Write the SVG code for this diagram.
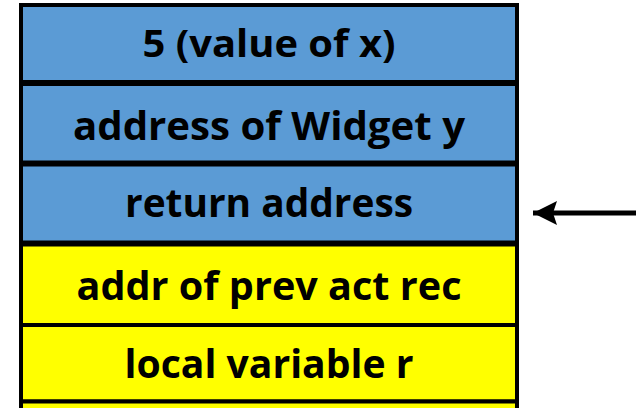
<svg xmlns="http://www.w3.org/2000/svg" width="636" height="408" viewBox="0 0 636 408">
<style>
.blue{fill:#5B9BD5;stroke:#000;stroke-width:4}
.yellow{fill:#FFFF00;stroke:#000;stroke-width:4}
.sep{stroke:#000;stroke-width:6}
.lbl{font-family:"Open Sans","Liberation Sans",sans-serif;font-weight:bold;fill:#000;text-anchor:middle}
.conn{stroke:#000;stroke-width:5;fill:none}
</style>
<defs>
<marker id="ah" markerUnits="userSpaceOnUse" markerWidth="26" markerHeight="26" viewBox="0 0 26 26" refX="24" refY="13" orient="auto">
<path d="M0,1 L24,13 L0,25 L4,13 Z" fill="#000"/>
</marker>
</defs>
<g id="row1"><rect class="blue" x="21" y="5" width="496" height="78"/><text class="lbl" x="269" y="57" font-size="38" textLength="253" lengthAdjust="spacingAndGlyphs">5 (value of x)</text></g>
<g id="row2"><rect class="blue" x="21" y="83" width="496" height="80"/><text class="lbl" x="269" y="140" font-size="39" textLength="392" lengthAdjust="spacingAndGlyphs">address of Widget y</text></g>
<g id="row3"><rect class="blue" x="21" y="163" width="496" height="80.5"/><text class="lbl" x="269" y="217" font-size="39" textLength="288" lengthAdjust="spacingAndGlyphs">return address</text></g>
<g id="row4"><rect class="yellow" x="21" y="243.5" width="496" height="81.5"/><text class="lbl" x="269" y="300" font-size="39" textLength="385" lengthAdjust="spacingAndGlyphs">addr of prev act rec</text></g>
<g id="row5"><rect class="yellow" x="21" y="325" width="496" height="76.5"/><text class="lbl" x="269" y="378" font-size="39" textLength="289" lengthAdjust="spacingAndGlyphs">local variable r</text></g>
<g id="row6"><rect class="yellow" x="21" y="401.5" width="496" height="60"/></g>
<g id="separators"><line class="sep" x1="19" y1="83" x2="519" y2="83"/><line class="sep" x1="19" y1="163.5" x2="519" y2="163.5"/><line class="sep" x1="19" y1="243.5" x2="519" y2="243.5"/></g>
<g id="connectors"><line class="conn" x1="636" y1="213" x2="533" y2="213" marker-end="url(#ah)"/></g>
</svg>
